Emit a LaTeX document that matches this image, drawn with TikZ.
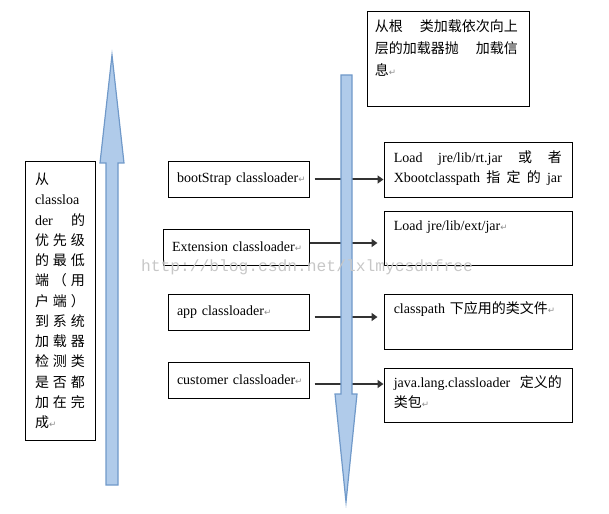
\documentclass[tikz,border=0pt]{standalone}
\usepackage{fontspec}
\setmainfont{Liberation Serif}
\newfontfamily\zhfont{Noto Sans CJK SC}
\newfontfamily\symfont{DejaVu Sans}
\newfontfamily\wmfont{Liberation Mono}
\usepackage{xcolor}
\usepackage{tikz}
\usetikzlibrary{arrows.meta}

\definecolor{arrowfill}{RGB}{176,203,234}
\definecolor{arrowline}{RGB}{112,153,201}
\definecolor{linkgray}{RGB}{51,51,51}

\newcommand{\zh}[1]{{\zhfont #1}}
\newcommand{\pmark}{\rlap{\textcolor{black!45}{\symfont\fontsize{6.5}{6.5}\selectfont ↵}}}

\begin{document}
\begin{tikzpicture}[
  x=0.75pt, y=-0.75pt,
  font=\fontsize{10.5}{15.5}\selectfont,
  ldrbox/.style={
    draw, line width=0.75pt, text width=92.25pt, inner xsep=6.75pt,
    inner ysep=0pt, minimum height=27pt, align=left
  },
  infobox/.style={
    draw, line width=0.75pt, minimum width=141pt, minimum height=40.5pt,
    inner sep=0pt
  },
  infotext/.style={
    anchor=north west, text width=126pt, inner sep=0pt, align=left,
    execute at begin node=\strut
  },
  link/.style={-{Triangle[length=4.5pt,width=6pt]}, line width=1.5pt, linkgray},
  bigarrow/.style={fill=arrowfill, draw=arrowline, line width=0.9pt, line join=miter}
]

\useasboundingbox (0,0) rectangle (609,513);

% left note: priority
\node[draw, line width=0.75pt, minimum width=52.5pt, minimum height=208.5pt,
      text width=37.5pt, inner xsep=7.5pt, align=left,
      font=\fontsize{10.5}{15.2}\selectfont] (prio) at (60,301) {%
  \zh{从}\\
  classloa\\
  der\hfill \zh{的}\\
  \zh{优\hfill 先\hfill 级}\\
  \zh{的\hfill 最\hfill 低}\\
  \zh{端\hfill （\hfill 用}\\
  \zh{户\hfill 端\hfill ）}\\
  \zh{到\hfill 系\hfill 统}\\
  \zh{加\hfill 载\hfill 器}\\
  \zh{检\hfill 测\hfill 类}\\
  \zh{是\hfill 否\hfill 都}\\
  \zh{加\hfill 在\hfill 完}\\
  \zh{成}\pmark
};

% top note: delegation
\node[draw, line width=0.75pt, minimum width=121.5pt, minimum height=71.25pt] (note) at (448,59.5) {};
\node[infotext, text width=107.25pt, font=\fontsize{10.5}{16.5}\selectfont]
  (notetext) at ([shift={(8,4)}]note.north west) {%
  \zh{从根\hfill 类加载依次向上}\\
  \zh{层的加载器抛\hfill 加载信}\\
  \zh{息}\pmark
};

% class loaders
\node[ldrbox] (boot) at (238.5,179.5) {bootStrap classloader\pmark};
\node[ldrbox, text width=96pt] (ext) at (236,247) {Extension classloader\pmark};
\node[ldrbox] (app) at (238.5,312) {app classloader\pmark};
\node[ldrbox] (cust) at (238.5,380) {customer classloader\pmark};

% what each one loads
\node[infobox] (bootjar) at (478,170) {};
\node[infotext] (bootjartext) at ([shift={(10,5)}]bootjar.north west) {%
  Load\hfill jre/lib/rt.jar\hfill \zh{或}\hfill \zh{者}\\
  Xbootclasspath\hfill \zh{指}\hfill \zh{定}\hfill \zh{的}\hfill jar
};

\node[infobox] (extjar) at (478,238) {};
\node[infotext] (extjartext) at ([shift={(10,5)}]extjar.north west) {Load jre/lib/ext/jar\pmark};

\node[infobox, minimum height=41.25pt] (appjar) at (478,321.5) {};
\node[infotext] (appjartext) at ([shift={(10,5)}]appjar.north west) {classpath \zh{下应用的类文件}\pmark};

\node[infobox] (custjar) at (478,395) {};
\node[infotext] (custjartext) at ([shift={(10,5)}]custjar.north west) {%
  java.lang.classloader\hfill \zh{定义的}\\
  \zh{类包}\pmark
};

% connectors
\draw[link, shorten <=3.75pt] (boot.east) -- (boot.east -| bootjar.west);
\draw[link, shorten >=4.5pt] ([yshift=3pt]ext.east) -- ([yshift=3pt]ext.east -| extjar.west);
\draw[link, shorten <=3.75pt, shorten >=4.5pt] ([yshift=-3.75pt]app.east) -- ([yshift=-3.75pt]app.east -| appjar.west);
\draw[link, shorten <=3.75pt] ([yshift=-3pt]cust.east) -- ([yshift=-3pt]cust.east -| custjar.west);

% the two big arrows
\draw[bigarrow] (341,75) -- (352,75) -- (352,394) -- (357,394) -- (346,502)
  -- (335,394) -- (341,394) -- cycle;
\draw[bigarrow] (106,485) -- (106,163) -- (100,163) -- (112,55) -- (124,163)
  -- (118,163) -- (118,485) -- cycle;

% watermark
\node[text=black!22, font=\wmfont\fontsize{12.2}{12.2}\selectfont, inner sep=0pt]
  (watermark) at (307,267) {http://blog.csdn.net/lxlmycsdnfree};

\end{tikzpicture}
\end{document}
